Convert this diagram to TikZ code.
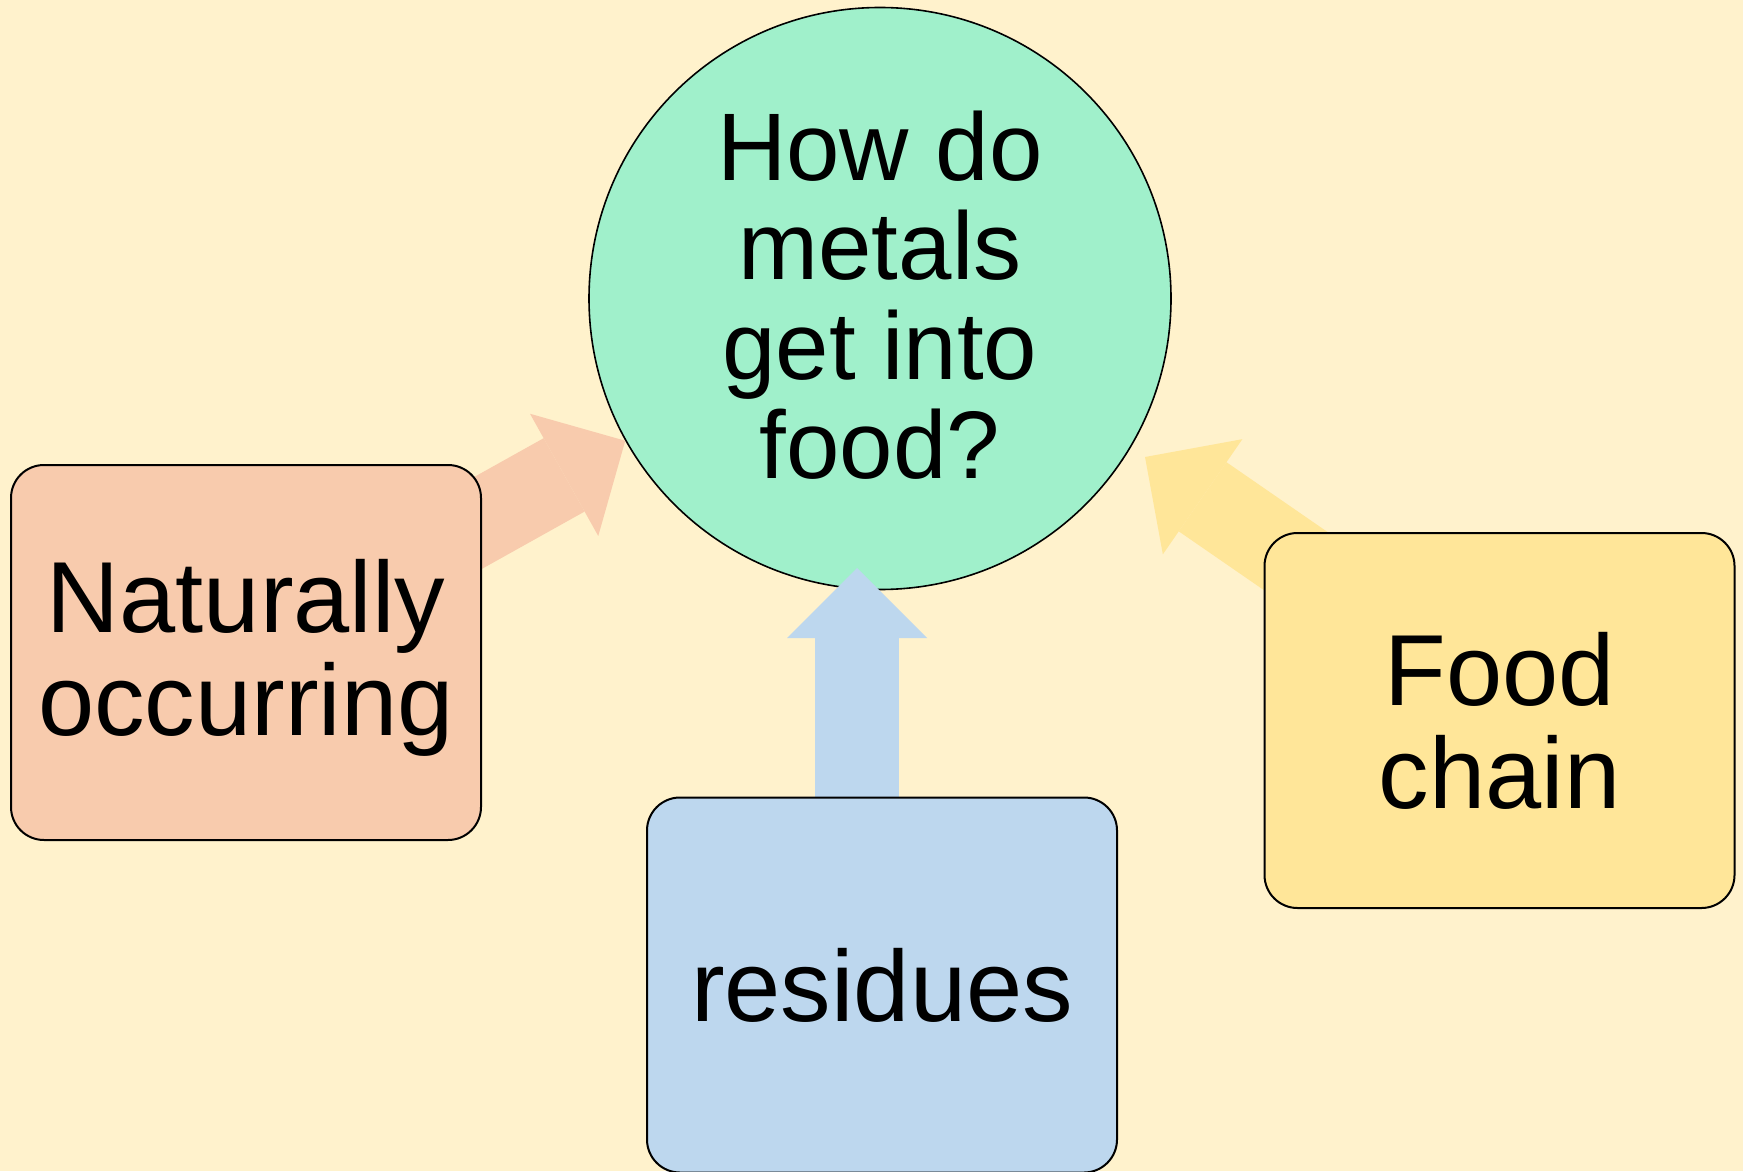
\documentclass[tikz,border=0pt]{standalone}
\usepackage{fontspec}
\setmainfont{Liberation Sans}
\usetikzlibrary{arrows.meta,backgrounds}
\definecolor{cream}{HTML}{FFF2CC}
\definecolor{mint}{HTML}{A0F0CB}
\definecolor{peach}{HTML}{F8CBAD}
\definecolor{sky}{HTML}{BDD7EE}
\definecolor{straw}{HTML}{FFE699}

\begin{document}
\begin{tikzpicture}[x=0.5pt, y=-0.5pt,
    hub/.style = {draw, circle, fill=mint, line width=0.8pt, minimum size=291pt, inner sep=0pt, align=center, text depth=4pt, font=\fontsize{48}{49.75}\selectfont},
    main/.style = {draw, rounded corners=16.5pt, line width=1pt, minimum width=235pt, minimum height=187.5pt, inner sep=0pt, align=center, font=\fontsize{50.5}{51.5}\selectfont},
    feed/.style = {line width=42pt, -{Triangle[length=35pt, width=70pt, line width=0pt]}}]
  \useasboundingbox (0,0) rectangle (1743,1171);
  \begin{scope}[on background layer]
    \fill[cream] (0,0) rectangle (1743,1171);
    \node[hub] (q) at (880,298.5) {How do\\metals\\get into\\food?};
  \end{scope}
  \node[main, fill=peach, text depth=5pt] (nat) at (246,652.5) {Naturally\\occurring};
  \node[main, fill=sky] (res) at (882,985) {residues};
  \node[main, fill=straw] (chain) at (1499.5,720.5) {Food\\chain};
  \coordinate (up) at (857,568);
  \coordinate (in) at (1145,457);
  \begin{scope}[on background layer]
    \draw[feed, peach] (nat.center) -- (q);
    \draw[feed, sky] (res.center -| up) -- (up);
    \draw[feed, straw] ([shift={(-25,-36)}]chain.center) -- (in);
  \end{scope}
\end{tikzpicture}
\end{document}
